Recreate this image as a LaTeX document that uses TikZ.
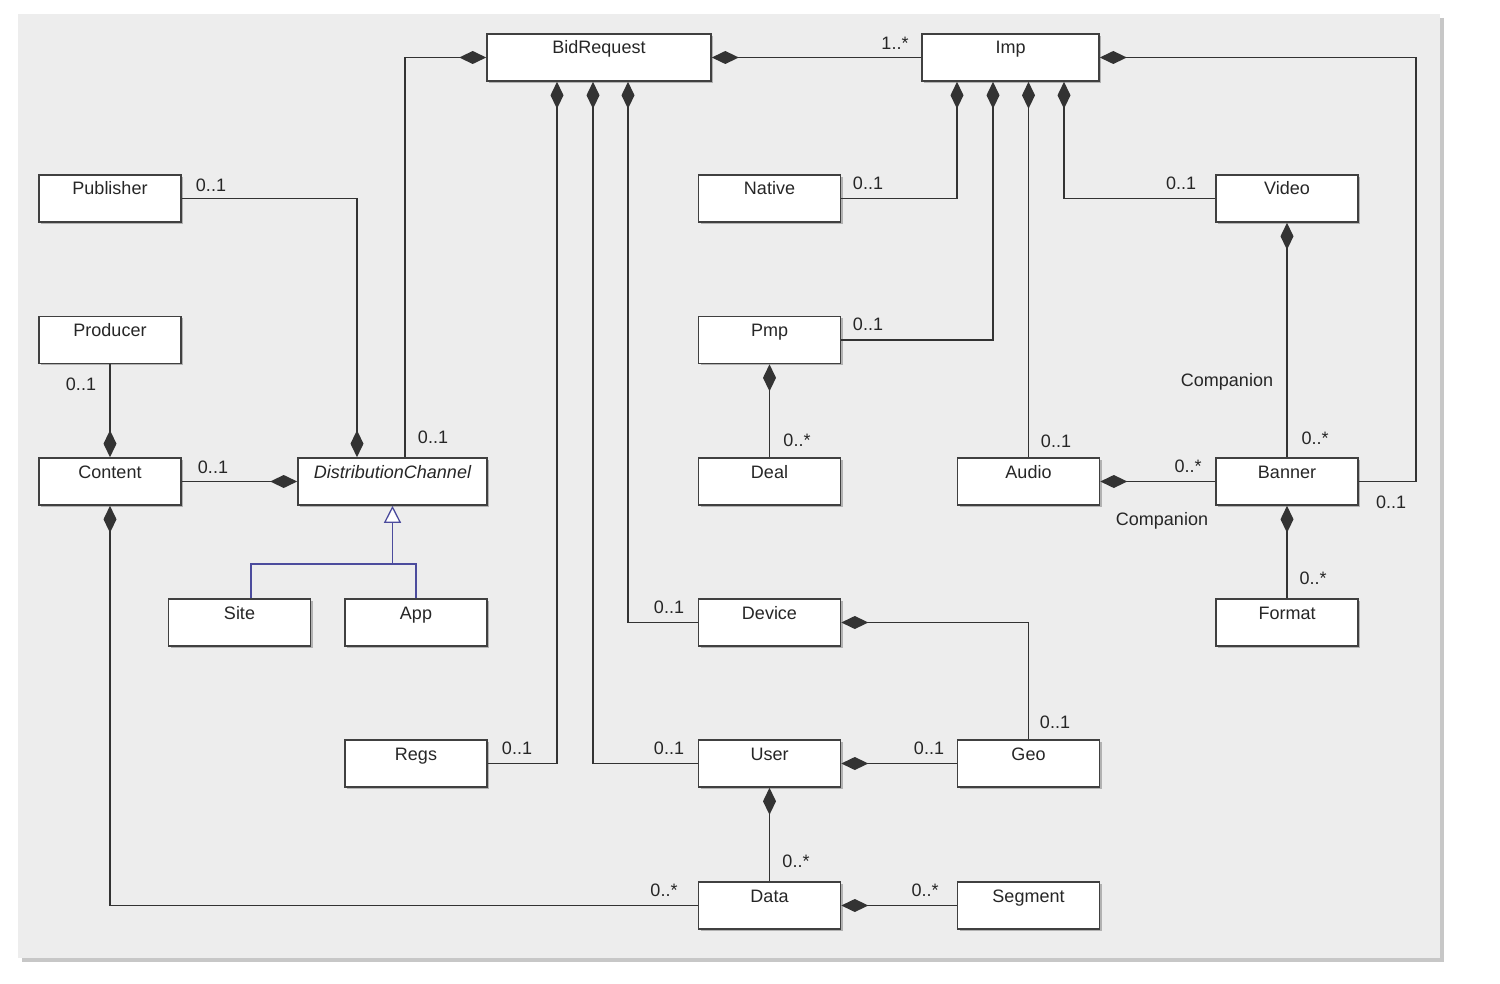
\documentclass[tikz,border=0pt]{standalone}
\usepackage{fontspec}
\setmainfont{Liberation Sans}
\usetikzlibrary{arrows.meta,shadows,calc}
\begin{document}
\begin{tikzpicture}[x=1pt,y=-1pt,
  every node/.style={font=\fontsize{18}{20}\selectfont, text=black!85},
  cls/.style={rectangle, draw=black!75, fill=white, line width=1.6pt,
    inner xsep=0pt, inner ysep=0pt, text height=20pt, text depth=27pt,
    minimum width=#1,
    drop shadow={shadow xshift=2pt, shadow yshift=-2pt, fill=black!45, opacity=0.6}},
  comp/.style={draw=black!80, line width=1.4pt, arrows={Diamond[length=27pt,width=13pt]-}},
  genl/.style={draw=blue!45!black!70!white, line width=1.4pt},
  mult/.style={inner sep=1pt}]
\useasboundingbox (0,0) rectangle (1500,984);
\fill[white] (0,0) rectangle (1500,984);
\fill[black!7] (18,14) rectangle (1440,958);
\draw[black!22, line width=4pt] (1442,18) -- (1442,960) -- (22,960);

% classes
\node[cls=224pt] (bid) at (599,57.5) {BidRequest};
\node[cls=177pt] (imp) at (1010.5,57.5) {Imp};
\node[cls=142pt] (pub) at (110,198.5) {Publisher};
\node[cls=142pt] (nat) at (769.5,198.5) {Native};
\node[cls=142pt] (vid) at (1287,198.5) {Video};
\node[cls=142pt] (prod) at (110,340) {Producer};
\node[cls=142pt] (pmp) at (769.5,340) {Pmp};
\node[cls=142pt] (cont) at (110,481.5) {Content};
\node[cls=189pt] (dc) at (392.5,481.5) {\itshape DistributionChannel};
\node[cls=142pt] (deal) at (769.5,481.5) {Deal};
\node[cls=142pt] (aud) at (1028.5,481.5) {Audio};
\node[cls=142pt] (ban) at (1287,481.5) {Banner};
\node[cls=142pt] (site) at (239.5,622.5) {Site};
\node[cls=142pt] (app) at (416,622.5) {App};
\node[cls=142pt] (dev) at (769.5,622.5) {Device};
\node[cls=142pt] (fmt) at (1287,622.5) {Format};
\node[cls=142pt] (regs) at (416,763.5) {Regs};
\node[cls=142pt] (user) at (769.5,763.5) {User};
\node[cls=142pt] (geo) at (1028.5,763.5) {Geo};
\node[cls=142pt] (data) at (769.5,905.5) {Data};
\node[cls=142pt] (seg) at (1028.5,905.5) {Segment};

% compositions
\draw[comp] (bid.west) -| (405,0 |- dc.north);
\draw[comp] (bid.east) -- (imp.west);
\draw[comp] (557,0 |- bid.south) |- (regs.east);
\draw[comp] (593,0 |- bid.south) |- (user.west);
\draw[comp] (628,0 |- bid.south) |- (dev.west);
\draw[comp] (957,0 |- imp.south) |- (nat.east);
\draw[comp] (993,0 |- imp.south) |- (pmp.east);
\draw[comp] (imp.south -| aud.north) -- (aud.north);
\draw[comp] (1064,0 |- imp.south) |- (vid.west);
\coordinate (ir) at (1416,57.5);
\draw[comp] (imp.east) -- (ir) |- (ban.east);
\draw[comp] (vid.south) -- (ban.north);
\draw[comp] (aud.east) -- (ban.west);
\draw[comp] (ban.south) -- (fmt.north);
\draw[comp] (357,0 |- dc.north) |- (pub.east);
\draw[comp] (cont.north) -- (prod.south);
\draw[comp] (dc.west) -- (cont.east);
\draw[comp] (cont.south) |- (data.west);
\draw[comp] (pmp.south) -- (deal.north);
\draw[comp] (dev.east) -| (geo.north);
\draw[comp] (user.east) -- (geo.west);
\draw[comp] (user.south) -- (data.north);
\draw[comp] (data.east) -- (seg.west);

% generalization
\coordinate (gj) at (dc.south |- 0,564);
\draw[genl] (251,0 |- site.north) |- (gj);
\draw[genl] (app.north) |- (gj);
\draw[genl, arrows={-Triangle[length=17pt,width=17pt,fill=white,line width=1.3pt]}] (gj) -- (dc.south);

% multiplicities
\node[mult] (l1) at (433,437) {0..1};
\node[mult] (l2) at (895,43) {1..*};
\node[mult] (l3) at (211,185) {0..1};
\node[mult] (l4) at (81,384) {0..1};
\node[mult] (l5) at (213,467) {0..1};
\node[mult] (l6) at (868,183) {0..1};
\node[mult] (l7) at (868,324) {0..1};
\node[mult] (l8) at (797,440) {0..*};
\node[mult] (l9) at (1056,441) {0..1};
\node[mult] (l10) at (1181,183) {0..1};
\node[mult] (c1) at (1227,382) {Companion};
\node[mult] (l11) at (1315,438) {0..*};
\node[mult] (l12) at (1188,466) {0..*};
\node[mult] (c2) at (1162,521) {Companion};
\node[mult] (l13) at (1391,502) {0..1};
\node[mult] (l14) at (1313,578) {0..*};
\node[mult] (l15) at (669,607) {0..1};
\node[mult] (l16) at (517,748) {0..1};
\node[mult] (l17) at (669,748) {0..1};
\node[mult] (l18) at (1055,722) {0..1};
\node[mult] (l19) at (929,748) {0..1};
\node[mult] (l20) at (796,861) {0..*};
\node[mult] (l21) at (664,890) {0..*};
\node[mult] (l22) at (925,890) {0..*};
\end{tikzpicture}
\end{document}
